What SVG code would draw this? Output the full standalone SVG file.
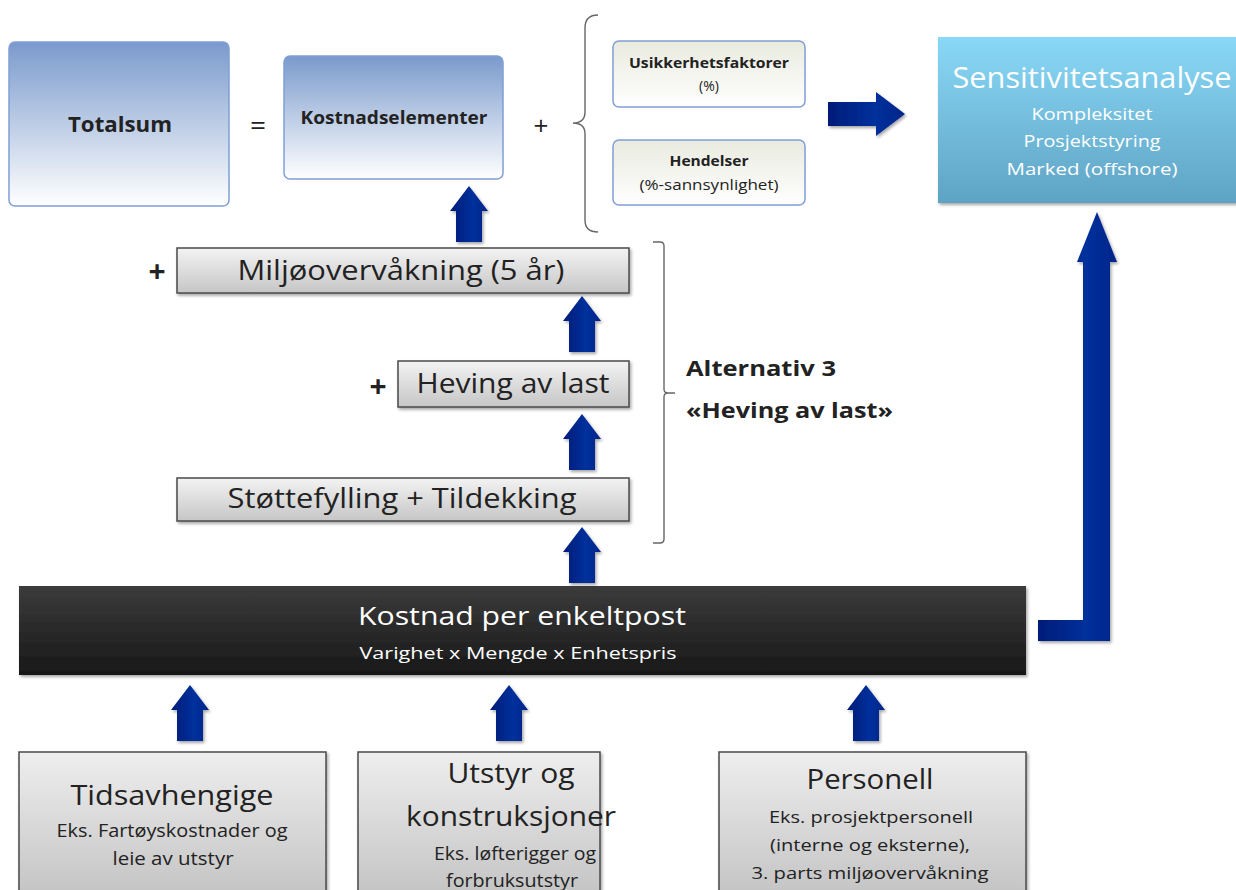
<svg xmlns="http://www.w3.org/2000/svg" xmlns:xlink="http://www.w3.org/1999/xlink" width="1236" height="890" viewBox="0 0 1236 890">
<defs>
<linearGradient id="gBlue" x1="0" y1="0" x2="0" y2="1"><stop offset="0" stop-color="#7a9acc"/><stop offset="1" stop-color="#ffffff"/></linearGradient>
<linearGradient id="gBeige" x1="0" y1="0" x2="0" y2="1"><stop offset="0" stop-color="#e9ebdf"/><stop offset="1" stop-color="#ffffff"/></linearGradient>
<linearGradient id="gSens" x1="0" y1="0" x2="0" y2="1"><stop offset="0" stop-color="#89d8f7"/><stop offset="1" stop-color="#5fa3c4"/></linearGradient>
<linearGradient id="gGray" x1="0" y1="0" x2="0" y2="1"><stop offset="0" stop-color="#f3f3f3"/><stop offset="1" stop-color="#c6c6c6"/></linearGradient>
<linearGradient id="gGrayTall" x1="0" y1="0" x2="0" y2="1"><stop offset="0" stop-color="#eeeeee"/><stop offset="1" stop-color="#c2c2c2"/></linearGradient>
<linearGradient id="gDark" x1="0" y1="0" x2="0" y2="1"><stop offset="0" stop-color="#3b3b3b"/><stop offset="1" stop-color="#181818"/></linearGradient>
<linearGradient id="gArrow" x1="0" y1="0" x2="1" y2="0"><stop offset="0" stop-color="#001c78"/><stop offset="0.6" stop-color="#00309c"/><stop offset="1" stop-color="#00268a"/></linearGradient>
<filter id="sh" x="-5%" y="-10%" width="115%" height="130%"><feDropShadow dx="1.5" dy="2" stdDeviation="1.5" flood-color="#000" flood-opacity="0.35"/></filter>
<path id="upArrow" d="M0,0 L19,25 L13,25 L13,56 L-13,56 L-13,25 L-19,25 Z"/>
<style>
.t{font-family:"Open Sans","Noto Sans","Liberation Sans",sans-serif;fill:#222;text-anchor:middle}
.b{font-weight:bold}
.w{fill:#ffffff}
.boxB{fill:url(#gBlue);stroke:#7f9fd6;stroke-width:1.5}
.boxE{fill:url(#gBeige);stroke:#7f9fd6;stroke-width:1.5}
.boxG{fill:url(#gGray);stroke:#4a4a4a;stroke-width:1.5}
.boxGT{fill:url(#gGrayTall);stroke:#4a4a4a;stroke-width:1.5}
.arrow{fill:url(#gArrow);filter:url(#sh)}
.br{fill:none;stroke:#666;stroke-width:1.4}
</style>
</defs>

<g id="totalsum">
<rect class="boxB" x="9" y="42" width="220" height="164" rx="6"/>
<text class="t b" x="120" y="132" font-size="21" textLength="104" lengthAdjust="spacingAndGlyphs">Totalsum</text>
</g>
<text class="t" x="258" y="135" font-size="28">=</text>
<g id="kostnadselementer">
<rect class="boxB" x="284" y="56" width="219" height="123" rx="6"/>
<text class="t b" x="394" y="124" font-size="17" textLength="187" lengthAdjust="spacingAndGlyphs">Kostnadselementer</text>
</g>
<text class="t" x="541" y="135" font-size="26">+</text>

<g id="usikkerhet">
<rect class="boxE" x="613" y="41" width="192" height="66" rx="6"/>
<text class="t b" x="709" y="68" font-size="15" textLength="160" lengthAdjust="spacingAndGlyphs">Usikkerhetsfaktorer</text>
<text class="t" x="709" y="91" font-size="14">(%)</text>
</g>
<g id="hendelser">
<rect class="boxE" x="613" y="140" width="192" height="65" rx="6"/>
<text class="t b" x="709" y="166" font-size="15" textLength="79" lengthAdjust="spacingAndGlyphs">Hendelser</text>
<text class="t" x="709" y="190" font-size="14" textLength="139" lengthAdjust="spacingAndGlyphs">(%-sannsynlighet)</text>
</g>

<g id="sensitivitet">
<rect x="938" y="37" width="300" height="166" fill="url(#gSens)" filter="url(#sh)"/>
<text class="t w" x="1092" y="88" font-size="29" textLength="279" lengthAdjust="spacingAndGlyphs">Sensitivitetsanalyse</text>
<text class="t w" x="1092" y="120" font-size="17" textLength="121" lengthAdjust="spacingAndGlyphs">Kompleksitet</text>
<text class="t w" x="1092" y="147" font-size="17" textLength="137" lengthAdjust="spacingAndGlyphs">Prosjektstyring</text>
<text class="t w" x="1092" y="175" font-size="17" textLength="171" lengthAdjust="spacingAndGlyphs">Marked (offshore)</text>
</g>

<g id="miljo">
<rect class="boxG" x="177" y="248" width="452" height="45" filter="url(#sh)"/>
<text class="t" x="401" y="280" font-size="27" textLength="327" lengthAdjust="spacingAndGlyphs">Miljøovervåkning (5 år)</text>
</g>
<text class="t b" x="157" y="282" font-size="30">+</text>

<g id="heving">
<rect class="boxG" x="398" y="361" width="231" height="46" filter="url(#sh)"/>
<text class="t" x="513" y="393" font-size="27" textLength="193" lengthAdjust="spacingAndGlyphs">Heving av last</text>
</g>
<text class="t b" x="378" y="397" font-size="30">+</text>

<g id="stottefylling">
<rect class="boxG" x="177" y="478" width="452" height="43" filter="url(#sh)"/>
<text class="t" x="402" y="508" font-size="27" textLength="349" lengthAdjust="spacingAndGlyphs">Støttefylling + Tildekking</text>
</g>

<g id="alternativ">
<text class="t b" x="686" y="376" font-size="22" style="text-anchor:start" textLength="150" lengthAdjust="spacingAndGlyphs">Alternativ 3</text>
<text class="t b" x="686" y="418" font-size="22" style="text-anchor:start" textLength="207" lengthAdjust="spacingAndGlyphs">«Heving av last»</text>
</g>

<g id="kostnad-per-enkeltpost">
<rect x="19" y="586" width="1007" height="89" fill="url(#gDark)" filter="url(#sh)"/>
<text class="t w" x="522" y="625" font-size="26" textLength="328" lengthAdjust="spacingAndGlyphs">Kostnad per enkeltpost</text>
<text class="t w" x="518" y="659" font-size="17" textLength="317" lengthAdjust="spacingAndGlyphs">Varighet x Mengde x Enhetspris</text>
</g>

<g id="tidsavhengige">
<rect class="boxGT" x="19" y="752" width="307" height="150" filter="url(#sh)"/>
<text class="t" x="172" y="805" font-size="28" textLength="203" lengthAdjust="spacingAndGlyphs">Tidsavhengige</text>
<text class="t" x="172" y="837" font-size="18" textLength="231" lengthAdjust="spacingAndGlyphs">Eks. Fartøyskostnader og</text>
<text class="t" x="173" y="865" font-size="18" textLength="121" lengthAdjust="spacingAndGlyphs">leie av utstyr</text>
</g>
<g id="utstyr">
<rect class="boxGT" x="358" y="752" width="242" height="150" filter="url(#sh)"/>
<text class="t" x="511" y="783" font-size="28" textLength="127" lengthAdjust="spacingAndGlyphs">Utstyr og</text>
<text class="t" x="511" y="826" font-size="28" textLength="210" lengthAdjust="spacingAndGlyphs">konstruksjoner</text>
<text class="t" x="515" y="860" font-size="18" textLength="162" lengthAdjust="spacingAndGlyphs">Eks. løfterigger og</text>
<text class="t" x="512" y="887" font-size="18" textLength="132" lengthAdjust="spacingAndGlyphs">forbruksutstyr</text>
</g>
<g id="personell">
<rect class="boxGT" x="719" y="752" width="307" height="150" filter="url(#sh)"/>
<text class="t" x="870" y="789" font-size="28" textLength="127" lengthAdjust="spacingAndGlyphs">Personell</text>
<text class="t" x="871" y="823" font-size="17" textLength="204" lengthAdjust="spacingAndGlyphs">Eks. prosjektpersonell</text>
<text class="t" x="870" y="851" font-size="17" textLength="200" lengthAdjust="spacingAndGlyphs">(interne og eksterne),</text>
<text class="t" x="870" y="879" font-size="17" textLength="237" lengthAdjust="spacingAndGlyphs">3. parts miljøovervåkning</text>
</g>

<g id="connectors">
<path class="br" d="M598,15 Q585,15 585,28 L585,112 Q585,123 573,123 Q585,123 585,134 L585,220 Q585,232 598,232"/>
<path class="br" d="M653,242 L660,242 Q664,242 664,246 L664,389 Q664,393 668,393 L675,393 M668,393 Q664,393 664,397 L664,539 Q664,543 660,543 L653,543"/>
<use xlink:href="#upArrow" href="#upArrow" class="arrow" transform="translate(469,186)"/>
<use xlink:href="#upArrow" href="#upArrow" class="arrow" transform="translate(582,296)"/>
<use xlink:href="#upArrow" href="#upArrow" class="arrow" transform="translate(582,414)"/>
<use xlink:href="#upArrow" href="#upArrow" class="arrow" transform="translate(582,527)"/>
<use xlink:href="#upArrow" href="#upArrow" class="arrow" transform="translate(190,685)"/>
<use xlink:href="#upArrow" href="#upArrow" class="arrow" transform="translate(509,685)"/>
<use xlink:href="#upArrow" href="#upArrow" class="arrow" transform="translate(866,685)"/>
<path class="arrow" d="M828,102 L876,102 L876,92 L905,114 L876,136 L876,126 L828,126 Z"/>
<path class="arrow" d="M1038,620 L1083,620 L1083,262 L1077,262 L1097,212 L1117,262 L1110,262 L1110,641 L1038,641 Z"/>
</g>
</svg>
